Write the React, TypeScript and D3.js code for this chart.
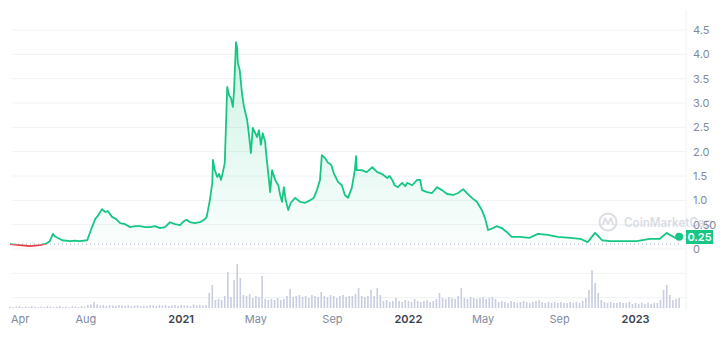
import React from 'react';
import * as d3 from 'd3';

// ---- data ----
const START_DATE = '2020-04-01';
const END_DATE = '2023-03-23';

// day offsets from START_DATE and the price on that day (USD)
const priceDays = [
  0, 8, 16, 24, 32, 40, 48, 58, 64, 69, 72, 76, 84, 96, 104, 112, 124, 130, 137, 141,
  148, 151, 153, 157, 164, 170, 177, 185, 193, 201, 209, 217, 225, 233, 241, 249, 257, 265, 273, 280,
  284, 289, 297, 305, 312, 316, 321, 325, 326, 329, 333, 336, 339, 342, 345, 349, 352, 355, 358, 360,
  363, 365, 366, 369, 373, 376, 381, 384, 387, 390, 394, 397, 400, 403, 406, 410, 411, 414, 418, 421,
  426, 431, 434, 437, 440, 443, 447, 451, 458, 466, 474, 482, 488, 493, 498, 501, 506, 511, 516, 520,
  527, 533, 538, 543, 549, 554, 556, 557, 565, 573, 582, 590, 598, 606, 610, 614, 618, 623, 630, 635,
  638, 646, 654, 659, 662, 670, 678, 686, 694, 702, 712, 720, 728, 734, 742, 750, 758, 763, 768, 776,
  782, 790, 798, 806, 819, 835, 848, 864, 880, 900, 916, 928, 940, 951, 964, 985, 1007, 1028, 1044, 1055,
  1063, 1068, 1075,
];
const prices = [
  0.10, 0.09, 0.08, 0.07, 0.06, 0.07, 0.08, 0.11, 0.16, 0.31, 0.26, 0.23, 0.18, 0.16, 0.17, 0.16, 0.18, 0.39, 0.62, 0.68,
  0.82, 0.78, 0.76, 0.78, 0.66, 0.62, 0.53, 0.51, 0.45, 0.47, 0.47, 0.45, 0.45, 0.47, 0.43, 0.45, 0.55, 0.51, 0.49, 0.58,
  0.60, 0.55, 0.53, 0.55, 0.60, 0.66, 1.00, 1.36, 1.83, 1.62, 1.48, 1.54, 1.42, 1.58, 1.77, 3.33, 3.16, 3.10, 2.92, 3.27,
  4.25, 4.13, 3.82, 3.68, 3.16, 2.92, 2.65, 2.34, 1.97, 2.49, 2.38, 2.30, 2.44, 2.14, 2.38, 2.20, 2.03, 1.66, 1.17, 1.62,
  1.42, 1.31, 1.11, 0.97, 1.27, 1.00, 0.80, 0.95, 1.05, 0.97, 0.95, 1.00, 1.05, 1.21, 1.42, 1.93, 1.87, 1.77, 1.73, 1.56,
  1.38, 1.31, 1.11, 1.05, 1.25, 1.62, 1.91, 1.62, 1.62, 1.58, 1.68, 1.58, 1.54, 1.46, 1.50, 1.42, 1.31, 1.27, 1.36, 1.29,
  1.36, 1.31, 1.42, 1.42, 1.21, 1.17, 1.15, 1.27, 1.21, 1.13, 1.11, 1.15, 1.23, 1.15, 1.05, 0.97, 0.80, 0.64, 0.39, 0.43,
  0.47, 0.43, 0.35, 0.25, 0.25, 0.23, 0.31, 0.29, 0.25, 0.23, 0.21, 0.14, 0.33, 0.18, 0.16, 0.16, 0.16, 0.21, 0.21, 0.33,
  0.27, 0.23, 0.25,
];

// one volume bar every 5 days (relative volume, $M)
const volumeStepDays = 5;
const volumes = [
  1.5, 1, 1.5, 2, 1, 1.5, 1, 2, 1.5, 1, 1.5, 1, 2, 1.5, 1, 1.5, 2, 1, 1.5, 1, 2, 1.5, 1, 2, 1.5,
  3, 3.5, 6, 3.5,
  2.5, 3, 2, 3, 2.5, 2, 3, 2.5, 2, 3, 2, 2.5, 3, 2, 2.5, 2, 3, 2.5, 2, 3, 2.5, 3, 2, 2.5, 3, 2, 3, 2.5, 3, 2, 3.5, 2.5, 3, 2.5, 3,
  15, 23, 8, 9, 8, 12, 36, 11, 28, 44, 30, 13, 12, 14, 10, 12, 11, 32, 9, 8, 9, 8, 10, 8, 9,
  12, 19, 11, 12, 13, 11, 12, 10, 13, 12, 11, 16, 12, 11, 13, 12, 10, 12, 13, 11, 12, 12,
  14, 20, 12, 11, 12, 18, 12, 20, 13,
  7, 8, 6, 7, 10, 7, 6, 8, 7, 6, 9, 7, 6, 7, 8, 6, 7, 9,
  15, 10, 9, 11, 10, 9, 12, 20, 10, 9, 11, 10, 9, 10, 11, 9, 10, 11, 9,
  6, 7, 6, 5, 7, 6, 5, 6, 7, 6, 5, 6, 7, 8, 6, 5, 6, 5, 6, 5, 6, 5, 5, 6, 5, 6, 5, 7,
  10, 18, 38, 25, 15, 8, 6, 5, 6, 5, 5, 6, 5, 5, 6,
  4, 5, 4, 5, 4, 5, 4, 5, 5,
  8, 18, 23, 13, 8, 9, 10,
];

const yTickValues = [0, 0.5, 1, 1.5, 2, 2.5, 3, 3.5, 4, 4.5];
const yTickLabels = ['0', '0.50', '1.0', '1.5', '2.0', '2.5', '3.0', '3.5', '4.0', '4.5'];
const gridValues = [-1, -0.5, 0, 0.5, 1, 1.5, 2, 2.5, 3, 3.5, 4, 4.5];
const xTickDates = ['2020-04-01', '2020-08-01', '2021-01-01', '2021-05-01', '2021-09-01', '2022-01-01', '2022-05-01', '2022-09-01', '2023-01-01'];
const xTickLabels = ['Apr', 'Aug', '2021', 'May', 'Sep', '2022', 'May', 'Sep', '2023'];
const lastPriceLabel = '0.25';
const watermark = 'CoinMarketCap';

const GREEN = '#16c784';
const RED = '#ea3943';

export default function App() {
  const parse = d3.timeParse('%Y-%m-%d');
  const start = parse(START_DATE) as Date;
  const end = parse(END_DATE) as Date;

  const x = d3.scaleTime().domain([start, end]).range([10, 686]);
  const y = d3.scaleLinear().domain([0, 4.5]).range([249, 30]);
  const yVol = d3.scaleLinear().domain([0, 44]).range([308, 264]);

  const pts = priceDays.map((d, i) => ({ date: d3.timeDay.offset(start, d), p: prices[i] }));
  const base = prices[0];
  const baseY = y(base);

  const line = d3.line<{ date: Date; p: number }>().x(d => x(d.date)).y(d => y(d.p));
  const area = d3.area<{ date: Date; p: number }>().x(d => x(d.date)).y0(baseY).y1(d => y(d.p));

  const linePath = line(pts) || '';
  const areaPath = area(pts) || '';
  const last = pts[pts.length - 1];

  const volBars = volumes.map((v, i) => ({ date: d3.timeDay.offset(start, i * volumeStepDays), v }));

  const font = 'Inter, "Noto Sans", sans-serif';

  return (
    <svg width={723} height={339} style={{ position: 'absolute', left: 0, top: 0, background: '#fff' }}>
      <defs>
        <clipPath id="above"><rect x={0} y={0} width={723} height={baseY} /></clipPath>
        <clipPath id="below"><rect x={0} y={baseY} width={723} height={339 - baseY} /></clipPath>
        <linearGradient id="gFill" gradientUnits="userSpaceOnUse" x1={0} y1={40} x2={0} y2={baseY}>
          <stop offset="0" stopColor={GREEN} stopOpacity={0.22} />
          <stop offset="1" stopColor={GREEN} stopOpacity={0.02} />
        </linearGradient>
      </defs>

      {/* grid */}
      {gridValues.map(v => (
        <line key={v} x1={12} x2={686} y1={y(v)} y2={y(v)} stroke="#eff2f5" strokeWidth={1} />
      ))}
      <line x1={686} x2={686} y1={10} y2={310} stroke="#eff2f5" strokeWidth={1} />

      {/* volume */}
      {volBars.map((b, i) => (
        <rect key={i} x={x(b.date) - 0.8} y={yVol(b.v)} width={1.6} height={308 - yVol(b.v)} fill="#c9cde0" />
      ))}

      {/* watermark */}
      <g opacity={0.5}>
        <circle cx={608} cy={222} r={8.5} fill="none" stroke="#b8bdc8" strokeWidth={2} />
        <path d="M602.5,225 L605,218.5 L608,223.5 L611,218.5 L613.5,225" fill="none" stroke="#b8bdc8" strokeWidth={1.8} />
        <text x={624} y={227} fontFamily={font} fontSize={12.5} fontWeight={600} fill="#b8bdc8" textLength={88} lengthAdjust="spacingAndGlyphs">{watermark}</text>
      </g>

      {/* area */}
      <path d={areaPath} fill="url(#gFill)" clipPath="url(#above)" />
      <path d={areaPath} fill={RED} fillOpacity={0.08} clipPath="url(#below)" />

      {/* baseline */}
      <line x1={10} x2={682} y1={baseY} y2={baseY} stroke="#a6b0c3" strokeWidth={1} strokeDasharray="1,3" />

      {/* line */}
      <path d={linePath} fill="none" stroke={GREEN} strokeWidth={1.8} strokeLinejoin="round" clipPath="url(#above)" />
      <path d={linePath} fill="none" stroke={RED} strokeWidth={1.8} strokeLinejoin="round" clipPath="url(#below)" />
      <circle cx={x(last.date)} cy={y(last.p)} r={4} fill={GREEN} />

      {/* y axis labels */}
      {yTickValues.map((v, i) => (
        <text key={v} x={693} y={y(v)} dy="0.35em" fontFamily={font} fontSize={11} fill="#808a9d">{yTickLabels[i]}</text>
      ))}

      {/* last price tag */}
      <rect x={686} y={230} width={27} height={14} fill={GREEN} />
      <text x={699.5} y={237} dy="0.35em" textAnchor="middle" fontFamily={font} fontSize={11} fontWeight={600} fill="#fff">{lastPriceLabel}</text>

      {/* x axis labels */}
      {xTickDates.map((d, i) => {
        const isYear = /^\d{4}$/.test(xTickLabels[i]);
        return (
          <text key={d + i} x={i === 0 ? 11 : x(parse(d) as Date)} y={323} textAnchor={i === 0 ? 'start' : 'middle'}
            fontFamily={font} fontSize={11} fontWeight={isYear ? 600 : 400} fill={isYear ? '#3a4150' : '#808a9d'}>
            {xTickLabels[i]}
          </text>
        );
      })}
    </svg>
  );
}
